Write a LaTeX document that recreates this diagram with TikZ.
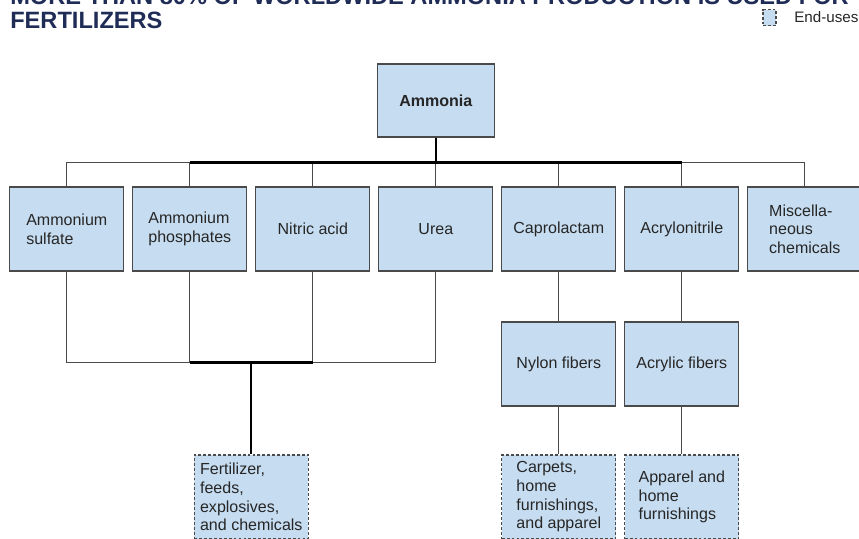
\documentclass[tikz,border=0pt]{standalone}
\usepackage{fontspec}
\setmainfont{Liberation Sans}
\definecolor{boxfill}{HTML}{C6DCF0}
\definecolor{boxline}{HTML}{4A4A4A}
\definecolor{titleblue}{HTML}{1F2C56}
\definecolor{textgray}{HTML}{262626}
\tikzstyle{heading} = [inner sep=0pt, text=titleblue, font=\fontsize{16.8pt}{17pt}\selectfont\bfseries]
\tikzstyle{chem} = [rectangle, minimum width=2.85cm, minimum height=2.1cm, inner sep=1pt, align=left, draw=boxline, fill=boxfill, line width=0.8pt, text=textgray, font=\fontsize{11.4pt}{13.3pt}\selectfont]
\tikzstyle{enduse} = [chem, dash pattern=on 2pt off 1.5pt]
\tikzstyle{link} = [draw=boxline, line width=0.8pt]
\tikzstyle{trunk} = [draw=black, line width=1.6pt]

\begin{document}
\begin{tikzpicture}[node distance=3.075cm]
\useasboundingbox (0,0) rectangle (21.475,-13.45);
% heading and key
\node (title1) [heading, anchor=base west] at (0.25,-0.12) {MORE THAN 80\% OF WORLDWIDE AMMONIA PRODUCTION IS USED FOR};
\node (title2) [heading, anchor=base west] at (0.25,-0.7075) {FERTILIZERS};
\node (legbox) [enduse, minimum width=0.325cm, minimum height=0.4cm] at (19.2375,-0.4375) {};
\node (legtext) [anchor=base west, inner sep=0pt, text=textgray, font=\fontsize{10.8pt}{12pt}\selectfont] at (19.85,-0.5675) {End-uses};

% direct products of ammonia
\node (sulfate) [chem] at (1.67,-5.725) {Ammonium\\sulfate};
\node (phosph)  [chem, right of=sulfate] {Ammonium\\phosphates};
\node (nitric)  [chem, right of=phosph]  {Nitric acid};
\node (urea)    [chem, right of=nitric]  {Urea};
\node (caprol)  [chem, right of=urea]    {Caprolactam};
\node (acrylo)  [chem, right of=caprol]  {Acrylonitrile};
\node (misc)    [chem, right of=acrylo]  {Miscella-\\neous\\chemicals};
\node (ammonia) [chem, above of=urea, node distance=3.2125cm, minimum width=2.925cm, minimum height=1.825cm, font=\fontsize{11.4pt}{13.3pt}\selectfont\bfseries] {Ammonia};

% fibers and end-uses
\node (nylon)   [chem, below of=caprol, node distance=3.375cm] {Nylon fibers};
\node (acrylic) [chem, below of=acrylo, node distance=3.375cm] {Acrylic fibers};
\node (carpets) [enduse, below of=nylon, node distance=3.325cm]   {Carpets,\\home\\furnishings,\\and apparel};
\node (apparel) [enduse, below of=acrylic, node distance=3.325cm] {Apparel and\\home\\furnishings};
\node (fert)    [enduse] at (6.2825,-12.425) {Fertilizer,\\feeds,\\explosives,\\and chemicals};

\coordinate (bus) at ([yshift=-0.625cm]ammonia.south);
\coordinate (fbus) at ([yshift=2.3cm]fert.north);

% ammonia to its products
\draw [link] (ammonia) |- (bus) -| (sulfate);
\draw [link] (bus) -| (phosph);
\draw [link] (bus) -| (nitric);
\draw [link] (bus) -- (urea);
\draw [link] (bus) -| (caprol);
\draw [link] (bus) -| (acrylo);
\draw [link] (bus) -| (misc);
\draw [trunk] (ammonia) -- (bus);
\draw [trunk] (bus -| phosph) -- (bus -| acrylo);

% fertilizer group
\draw [link] (sulfate) |- (fbus) -| (urea);
\draw [link] (phosph) |- (fbus);
\draw [link] (nitric) |- (fbus);
\draw [trunk] (fbus -| phosph) -- (fbus -| nitric);
\draw [trunk] (fbus) -- (fert);

% fiber chains
\draw [link] (caprol) -- (nylon);
\draw [link] (nylon) -- (carpets);
\draw [link] (acrylo) -- (acrylic);
\draw [link] (acrylic) -- (apparel);
\end{tikzpicture}
\end{document}
